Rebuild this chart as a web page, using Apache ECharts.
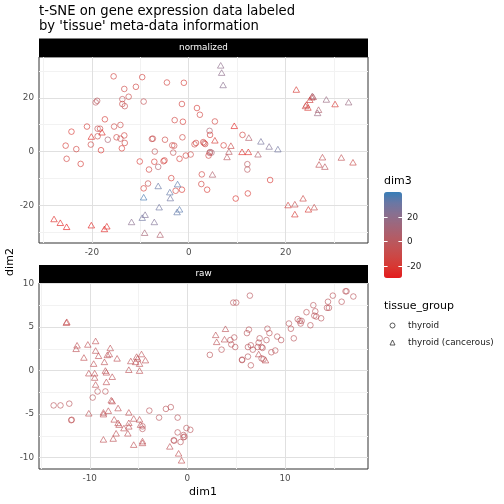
<!DOCTYPE html>
<html>
<head>
<meta charset="utf-8">
<script src="https://cdn.jsdelivr.net/npm/echarts@6/dist/echarts.min.js"></script>
<style>html,body{margin:0;padding:0;background:#fff;}#c{width:504px;height:504px;}</style>
</head>
<body>
<div id="c"></div>
<script>
// ---------- data: "normalized" panel ----------
const normCircleX = [-15.5,-9.6,-10.9,-13.3,-4.5,-1.0,-18.9,-19.2,-13.7,-12.4,-13.7,-13.2,-9.3,-1.4,-17.3,-21.0,-24.2,-18.8,-18.3,-15.4,-14.1,-2.9,-1.2,-18.8,-16.7,-14.9,-14.1,-13.3,-13.2,-13.8,-25.4,-23.2,-20.2,-18.1,-25.2,-22.3,-7.6,-7.4,-4.9,-3.4,-3.0,-1.3,-7.0,-3.2,-0.6,-10.1,-7.1,-5.2,-5.0,-6.3,-8.2,-1.9,-8.4,-9.3,-3.6,-2.7,-1.4,1.7,2.3,5.4,4.3,4.4,1.5,1.2,3.0,3.2,3.4,7.2,4.4,4.7,4.3,4.1,0.4,11.1,12.1,12.1,2.7,2.6,3.8,16.8,9.7,12.2];
const normCircleY = [28.0,27.7,24.1,23.3,25.7,25.6,18.9,18.3,19.5,20.4,17.7,16.9,18.6,17.7,12.0,9.3,7.4,8.5,8.5,9.3,9.9,11.7,11.1,5.7,4.4,5.3,4.8,6.0,3.2,1.2,2.2,0.9,2.6,0.5,-2.7,-4.6,4.7,4.8,4.4,2.3,2.2,5.3,0.0,-0.4,-1.5,-3.7,-3.8,-3.6,-3.3,-5.7,-6.7,-2.7,-11.9,-13.7,-9.9,-14.6,-14.2,16.2,13.7,11.2,7.7,6.2,3.2,2.7,3.5,3.1,2.8,2.3,-0.2,-0.4,-0.5,-1.5,-1.1,6.2,-4.7,-6.7,-8.5,-12.1,-14.2,-10.6,-17.5,-15.6];
const normCircleDim3 = [-15,-15,-15,-12,-15,-18,0,0,-5,-10,-10,-5,-5,-15,-18,-18,-20,-5,-10,-12,-10,-15,-18,-8,8,-15,-5,-15,-12,-20,-18,-15,-12,-22,-15,-18,-5,-10,-12,-10,-12,-12,-5,-5,-15,-20,-20,-15,-18,5,-15,-18,-8,-18,-18,-15,-20,-18,-15,-15,8,-18,-15,-12,-15,-12,-10,-18,5,8,0,-15,-10,-15,0,0,-15,-15,-20,-20,-22,-20];
const normTriX = [-20.1,-17.9,-6.3,-2.3,-3.9,-3.8,-9.3,-6.1,-1.9,-2.4,-9.0,-9.6,-11.8,-7.1,-9.1,-5.9,-27.8,-26.5,-25.2,-20.1,-16.9,-17.4,6.6,6.8,7.1,9.4,5.4,8.7,8.3,7.9,12.4,14.9,16.6,18.4,11.0,12.3,14.3,4.9,22.2,25.5,25.7,25.4,25.0,24.3,24.1,24.6,26.8,26.6,28.4,30.2,33.0,27.6,26.9,28.1,31.5,33.9,20.5,21.9,23.6,21.9,24.7,25.9];
const normTriY = [5.6,7.2,-12.8,-12.1,-15.1,-17.3,-17.0,-20.7,-21.5,-22.5,-23.5,-24.6,-26.2,-26.2,-30.2,-30.9,-25.1,-26.5,-28.0,-27.4,-27.8,-28.8,32.1,29.4,24.8,9.6,4.2,2.2,0.0,-2.0,5.2,3.8,1.9,0.9,-0.1,-0.1,-1.0,-8.5,23.1,20.7,20.4,20.2,19.3,17.5,17.0,16.4,15.6,14.4,19.4,17.7,18.4,-2.1,-4.8,-5.6,-2.2,-4.0,-19.9,-19.6,-17.4,-23.3,-21.5,-20.7];
const normTriDim3 = [-25,-25,32,35,33,30,38,30,35,33,25,30,22,25,10,5,-25,-28,-30,-28,-25,-28,20,20,22,-28,-20,-10,0,0,5,28,25,30,-25,-25,5,5,-20,10,5,-5,-15,-15,-10,-20,5,15,15,-20,15,-5,-5,0,-5,-10,-15,-8,-12,-20,-20,-8];

// ---------- data: "raw" panel ----------
const rawCircleX = [-9.2,-8.4,-9.7,-13.7,-13.0,-12.1,-11.9,-11.85,-4.6,-4.6,-3.9,-2.9,-2.2,-1.7,-1.0,-1.0,-1.4,-1.35,-0.7,-0.4,-0.3,-0.4,-0.1,0.3,2.3,6.4,4.7,5.0,3.5,4.4,4.8,4.5,4.9,6.1,6.3,5.6,5.6,6.2,6.5,6.2,6.5,6.7,7.2,7.3,7.4,7.6,7.7,8.1,8.2,8.4,7.6,7.8,8.6,9.0,9.2,9.6,10.9,10.4,10.6,11.3,11.5,11.7,11.6,12.2,12.6,12.9,13.1,13.0,13.2,13.7,14.4,14.3,14.5,14.9,15.8,16.2,16.3,17.0];
const rawCircleY = [-2.4,-2.4,-3.1,-4.0,-4.0,-3.8,-5.7,-5.65,-6.4,-6.7,-4.6,-5.4,-4.4,-4.2,-5.4,-7.1,-8.0,-8.05,-8.2,-7.4,-7.6,-7.65,-6.6,-6.8,1.8,8.6,7.8,7.8,2.4,3.5,3.8,3.0,2.7,4.3,4.7,1.2,1.25,1.6,0.6,2.7,2.9,2.4,2.7,3.2,3.7,2.7,2.6,3.5,4.8,4.3,1.4,1.3,2.1,2.3,3.9,3.5,3.7,5.4,4.8,5.9,5.7,5.7,5.4,6.7,5.2,7.5,6.8,6.3,6.2,6.0,7.9,7.2,7.2,8.6,7.9,9.1,9.1,8.5];
const rawCircleDim3 = [-1,-2,0,-1,-2,-1,-4,-4,-1,0,-1,0,-2,-1,0,-1,-1,-2,0,-1,-1,-2,0,-1,-2,-1,0,-1,-2,-1,0,-1,-1,0,-2,-1,-1,0,-2,-1,0,-1,-1,-2,0,-1,-1,0,-1,-2,-1,0,-1,-2,0,-1,-1,0,-2,-1,-1,0,-1,-2,-1,0,-1,-1,-2,0,-1,-1,0,-2,-1,-1,0,-1];
const rawTriX = [-12.4,-12.35,-11.3,-11.4,-10.2,-9.4,-9.4,-9.1,-10.6,-7.9,-8.0,-8.2,-7.2,-8.5,-9.6,-10.1,-9.5,-9.5,-8.4,-8.3,-7.7,-9.4,-8.3,-7.8,-7.7,-7.1,-8.1,-8.6,-8.6,-10.1,-7.5,-7.1,-7.0,-6.5,-6.0,-6.0,-6.0,-6.1,-7.3,-7.6,-8.6,-5.5,-4.9,-4.8,-4.6,-4.6,-5.5,-6.0,-4.9,-5.8,-5.3,-5.2,-5.1,-4.7,-4.3,-4.9,-1.8,-0.9,-0.6,3.9,2.9,3.0,3.8,7.3,8.0];
const rawTriY = [5.5,5.6,2.9,2.5,3.0,3.4,2.3,1.7,1.5,2.6,1.9,1.8,1.4,1.0,0.8,-0.3,-0.3,-0.8,0.0,-0.2,-0.7,-1.6,-1.3,-3.4,-3.5,-4.3,-4.6,-4.8,-5.0,-4.9,-5.6,-6.0,-6.2,-6.6,-4.8,-6.0,-6.4,-7.2,-7.2,-7.8,-7.9,-5.5,-5.6,-6.2,-8.1,-8.3,-8.5,0.1,0.0,1.1,1.0,1.6,1.4,1.9,1.2,0.8,-8.7,-9.5,-10.3,4.8,4.1,3.3,3.6,1.9,1.2];
const rawTriDim3 = [-7,-7,-4,-3,-4,-4,-3,-4,-5,-3,-4,-3,-4,-3,-4,-3,-4,-3,-4,-3,-4,-3,-4,-3,-4,-3,-4,-3,-4,-3,-4,-3,-4,-3,-4,-3,-4,-3,-4,-3,-4,-3,-4,-3,-4,-3,-4,-3,-4,-3,-4,-3,-4,-3,-4,-3,-4,-5,-6,-2,-2,-3,-2,-3,-4];

// ---------- scales / ticks ----------
const dim3Limits = [-30, 40];
const dim3Ticks = [20, 0, -20];
const normXTicks = [-20, 0, 20], normXMinor = [-30, -10, 10, 30];
const normYTicks = [-20, 0, 20], normYMinor = [-30, -10, 10, 30];
const rawXTicks = [-10, 0, 10], rawXMinor = [-15, -5, 5, 15];
const rawYTicks = [-10, -5, 0, 5, 10], rawYMinor = [-7.5, -2.5, 2.5, 7.5];
const panelNames = ['normalized', 'raw'];
const shapeNames = ['thyroid', 'thyroid (cancerous)'];

// ---------- Lab colour gradient (ggplot style) ----------
const LOW = '#E41A1C', HIGH = '#377EB8';
function s2l(c){c/=255;return c<=0.04045?c/12.92:Math.pow((c+0.055)/1.055,2.4);}
function l2s(c){c=Math.max(0,Math.min(1,c));return Math.round(255*(c<=0.0031308?12.92*c:1.055*Math.pow(c,1/2.4)-0.055));}
const Xn=0.95047,Yn=1,Zn=1.08883;
function f(t){return t>0.008856?Math.cbrt(t):7.787*t+16/116;}
function fi(t){return t>0.206893?t*t*t:(t-16/116)/7.787;}
function hex2lab(h){const r=s2l(parseInt(h.substr(1,2),16)),g=s2l(parseInt(h.substr(3,2),16)),b=s2l(parseInt(h.substr(5,2),16));
 const X=0.4124*r+0.3576*g+0.1805*b,Y=0.2126*r+0.7152*g+0.0722*b,Z=0.0193*r+0.1192*g+0.9505*b;
 const fx=f(X/Xn),fy=f(Y/Yn),fz=f(Z/Zn);return [116*fy-16,500*(fx-fy),200*(fy-fz)];}
function lab2hex(L,a,b){const fy=(L+16)/116,fx=fy+a/500,fz=fy-b/200;const X=fi(fx)*Xn,Y=fi(fy)*Yn,Z=fi(fz)*Zn;
 const r=3.2406*X-1.5372*Y-0.4986*Z,g=-0.9689*X+1.8758*Y+0.0415*Z,bb=0.0557*X-0.2040*Y+1.0570*Z;
 return '#'+[l2s(r),l2s(g),l2s(bb)].map(v=>v.toString(16).padStart(2,'0')).join('');}
const labLo=hex2lab(LOW),labHi=hex2lab(HIGH);
function colorAt(t){t=Math.max(0,Math.min(1,t));return lab2hex(labLo[0]+(labHi[0]-labLo[0])*t,labLo[1]+(labHi[1]-labLo[1])*t,labLo[2]+(labHi[2]-labLo[2])*t);}
function colorFor(v){return colorAt((v-dim3Limits[0])/(dim3Limits[1]-dim3Limits[0]));}
const gradStops=[0,0.125,0.25,0.375,0.5,0.625,0.75,0.875,1].map(colorAt);

const FONT='DejaVu Sans';
function pts(xs,ys,ds){return xs.map((x,i)=>({value:[x,ys[i]],itemStyle:{borderColor:colorFor(ds[i])}}));}

const G=[{left:39,top:57,width:329,height:186},{left:39,top:283,width:329,height:186}];
function axis(gi,min,max,ticks){
  return {type:'value',gridIndex:gi,min:min,max:max,
    axisLine:{show:false},
    axisTick:{show:true,length:3,lineStyle:{color:'#333',width:1},customValues:ticks},
    axisLabel:{customValues:ticks,color:'#4d4d4d',fontSize:8.8,fontFamily:FONT,margin:5},
    splitLine:{show:false},splitArea:{show:false}};
}
function gridLines(gi,xMaj,xMin,yMaj,yMin){
  const d=[];
  xMin.forEach(v=>d.push({xAxis:v,lineStyle:{color:'#f2f2f2',width:1,type:'solid'}}));
  yMin.forEach(v=>d.push({yAxis:v,lineStyle:{color:'#f2f2f2',width:1,type:'solid'}}));
  xMaj.forEach(v=>d.push({xAxis:v,lineStyle:{color:'#e0e0e0',width:1,type:'solid'}}));
  yMaj.forEach(v=>d.push({yAxis:v,lineStyle:{color:'#e0e0e0',width:1,type:'solid'}}));
  return {type:'scatter',xAxisIndex:gi,yAxisIndex:gi,data:[],z:1,silent:true,
    markLine:{silent:true,symbol:['none','none'],label:{show:false},animation:false,data:d}};
}
const ptStyle={color:'rgba(0,0,0,0)',borderColor:'#333',borderWidth:0.8};
function scat(name,gi,data,sym,size){
  return {type:'scatter',name:name,xAxisIndex:gi,yAxisIndex:gi,symbol:sym,symbolSize:size,z:5,
    itemStyle:ptStyle,emphasis:{disabled:true},data:data};
}

const cbTop=192,cbH=86,cbLeft=384,cbW=18;
function cbY(v){return cbTop+(dim3Limits[1]-v)/(dim3Limits[1]-dim3Limits[0])*cbH;}
const graphics=[
  {type:'rect',shape:{x:39,y:38.5,width:329,height:18.5},style:{fill:'#000'}},
  {type:'text',x:203.5,y:48,style:{text:panelNames[0],fill:'#fff',fontSize:8.8,fontFamily:FONT,align:'center',verticalAlign:'middle'}},
  {type:'rect',shape:{x:39,y:265,width:329,height:18},style:{fill:'#000'}},
  {type:'text',x:203.5,y:274,style:{text:panelNames[1],fill:'#fff',fontSize:8.8,fontFamily:FONT,align:'center',verticalAlign:'middle'}},
  {type:'text',x:203,y:492,style:{text:'dim1',fill:'#000',fontSize:11,fontFamily:FONT,align:'center',verticalAlign:'middle'}},
  {type:'text',x:10,y:262,rotation:Math.PI/2,style:{text:'dim2',fill:'#000',fontSize:11,fontFamily:FONT,align:'center',verticalAlign:'middle'}},
  {type:'text',x:384,y:181,style:{text:'dim3',fill:'#000',fontSize:11,fontFamily:FONT,align:'left',verticalAlign:'middle'}},
  {type:'text',x:384,y:306,style:{text:'tissue_group',fill:'#000',fontSize:11,fontFamily:FONT,align:'left',verticalAlign:'middle'}}
];
dim3Ticks.forEach(v=>{
  const y=Math.round(cbY(v))+0.5;
  graphics.push({type:'text',x:407,y:y,style:{text:String(v),fill:'#1a1a1a',fontSize:8.8,fontFamily:FONT,align:'left',verticalAlign:'middle'}});
  graphics.push({type:'line',z:100,shape:{x1:cbLeft,y1:y,x2:cbLeft+3.6,y2:y},style:{stroke:'#fff',lineWidth:1}});
  graphics.push({type:'line',z:100,shape:{x1:cbLeft+cbW-3.6,y1:y,x2:cbLeft+cbW,y2:y},style:{stroke:'#fff',lineWidth:1}});
});

const chart=echarts.init(document.getElementById('c'),null,{renderer:'canvas'});
chart.setOption({
  animation:false,
  backgroundColor:'#fff',
  title:{text:'t-SNE on gene expression data labeled\nby \'tissue\' meta-data information',left:39,top:4,padding:0,
    textStyle:{fontFamily:FONT,fontSize:13.2,fontWeight:'normal',color:'#000',lineHeight:15}},
  grid:G.map(g=>Object.assign({show:true,borderColor:'#333',borderWidth:1,backgroundColor:'#fff',containLabel:false},g)),
  xAxis:[axis(0,-30.9,37.0,normXTicks),axis(1,-15.2,18.5,rawXTicks)],
  yAxis:[axis(0,-34.05,35.2,normYTicks),axis(1,-11.3,10.05,rawYTicks)],
  visualMap:[{type:'continuous',min:dim3Limits[0],max:dim3Limits[1],seriesIndex:[2],left:cbLeft,top:cbTop,
    itemWidth:cbW,itemHeight:cbH,calculable:false,padding:0,inRange:{color:gradStops},textStyle:{fontSize:0}}],
  legend:{orient:'vertical',left:389.5,top:317,padding:0,itemWidth:5,itemHeight:5,itemGap:0,selectedMode:false,
    data:[{name:shapeNames[0],icon:'circle'},{name:shapeNames[1],icon:'triangle'}],
    itemStyle:{color:'rgba(0,0,0,0)',borderColor:'#333',borderWidth:1},
    textStyle:{fontFamily:FONT,fontSize:8.8,color:'#1a1a1a',lineHeight:17,padding:[0,0,0,8]}},
  graphic:graphics,
  series:[
    gridLines(0,normXTicks,normXMinor,normYTicks,normYMinor),
    gridLines(1,rawXTicks,rawXMinor,rawYTicks,rawYMinor),
    {type:'scatter',xAxisIndex:0,yAxisIndex:0,data:[],silent:true},
    scat(shapeNames[0],0,pts(normCircleX,normCircleY,normCircleDim3),'circle',5.6),
    scat(shapeNames[1],0,pts(normTriX,normTriY,normTriDim3),'triangle',[6.5,5.6]),
    scat(shapeNames[0],1,pts(rawCircleX,rawCircleY,rawCircleDim3),'circle',5.6),
    scat(shapeNames[1],1,pts(rawTriX,rawTriY,rawTriDim3),'triangle',[6.5,5.6])
  ]
});
</script>
</body>
</html>
